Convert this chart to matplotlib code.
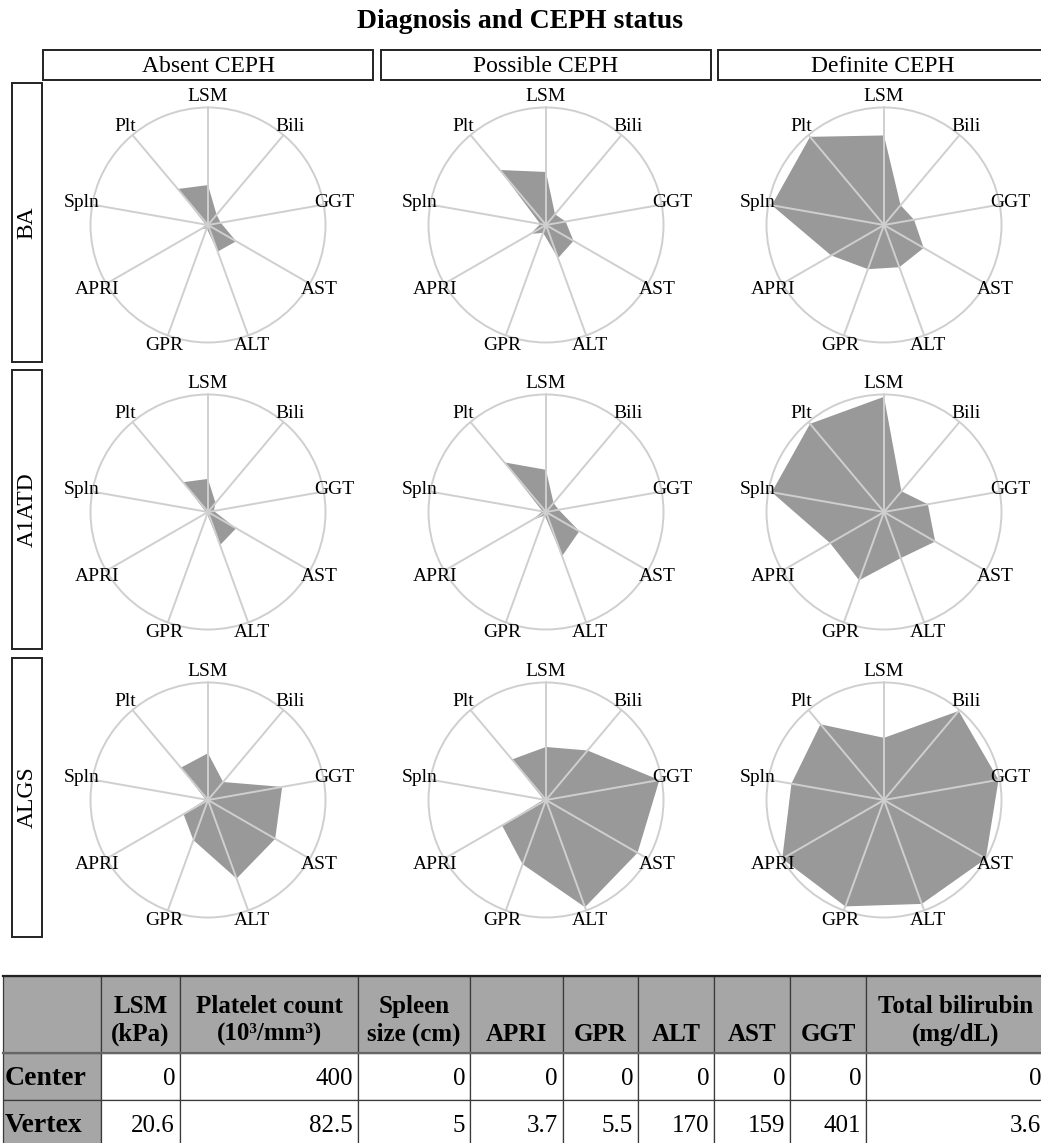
import numpy as np
import matplotlib
matplotlib.use("Agg")
import matplotlib.pyplot as plt
from matplotlib.patches import Rectangle

plt.rcParams["font.family"] = ["Liberation Serif", "DejaVu Serif"]

# ---- data -------------------------------------------------------------
# radar spokes (counter-clockwise from the top), same order as the table
metrics = ["LSM", "Plt", "Spln", "APRI", "GPR", "ALT", "AST", "GGT", "Bili"]
center_vals = [0, 400, 0, 0, 0, 0, 0, 0, 0]
vertex_vals = [20.6, 82.5, 5, 3.7, 5.5, 170, 159, 401, 3.6]

diagnoses = ["BA", "A1ATD", "ALGS"]
ceph_status = ["Absent CEPH", "Possible CEPH", "Definite CEPH"]

# values per panel, in metric order (LSM, Plt, Spln, APRI, GPR, ALT, AST, GGT, Bili)
ba_absent = [7.0, 273, 0.10, 0.26, 0.17, 41, 44, 44, 0.41]
ba_possible = [9.3, 206, 0.25, 0.56, 0.39, 51, 43, 68, 0.43]
ba_definite = [15.7, 89, 4.85, 1.92, 2.2, 65, 62, 104, 0.79]
a1atd_absent = [5.8, 295, 0.10, 0.07, 0.11, 51, 44, 20, 0.36]
a1atd_possible = [7.4, 225, 0.15, 0.52, 0.17, 68, 52, 44, 0.36]
a1atd_definite = [20.2, 89, 4.85, 1.96, 3.4, 71, 80, 152, 0.83]
algs_absent = [8.2, 286, 0.10, 0.89, 2.0, 121, 105, 257, 0.72]
algs_possible = [9.3, 257, 0.10, 1.60, 3.2, 165, 143, 393, 1.98]
algs_definite = [10.9, 133, 4.0, 3.70, 5.3, 160, 159, 397, 3.56]

panel_values = [
    [ba_absent, ba_possible, ba_definite],
    [a1atd_absent, a1atd_possible, a1atd_definite],
    [algs_absent, algs_possible, algs_definite],
]

# reference table
table_headers = ["", "LSM\n(kPa)", "Platelet count\n(10³/mm³)", "Spleen\nsize (cm)",
                 "APRI", "GPR", "ALT", "AST", "GGT", "Total bilirubin\n(mg/dL)"]
center_text = ["0", "400", "0", "0", "0", "0", "0", "0", "0"]
vertex_text = ["20.6", "82.5", "5", "3.7", "5.5", "170", "159", "401", "3.6"]

# ---- figure ------------------------------------------------------------
W, H = 1041, 1143
fig = plt.figure(figsize=(W / 100, H / 100), dpi=100)
fig.patch.set_facecolor("white")

canvas = fig.add_axes([0, 0, 1, 1])
canvas.set_xlim(0, W)
canvas.set_ylim(H, 0)
canvas.axis("off")

canvas.text(520, 22, "Diagnosis and CEPH status", ha="center", va="center",
            fontsize=20, fontweight="bold")

# facet strips
col_left = [43, 381, 718]
strip_w = 330
for j, name in enumerate(ceph_status):
    canvas.add_patch(Rectangle((col_left[j], 50), strip_w, 30, facecolor="white",
                               edgecolor="#222222", lw=1.4))
    canvas.text(col_left[j] + strip_w / 2, 66, name, ha="center", va="center",
                fontsize=17)

row_top = [83, 370, 658]
strip_h = 279
for i, name in enumerate(diagnoses):
    canvas.add_patch(Rectangle((12, row_top[i]), 30, strip_h, facecolor="white",
                               edgecolor="#222222", lw=1.4))
    canvas.text(27, row_top[i] + strip_h / 2, name, ha="center", va="center",
                fontsize=17, rotation=90)

# radar panels
col_cx = [208, 546, 884]
row_cy = [225, 512, 800]
R = 117.5
theta = np.arange(len(metrics)) * 2 * np.pi / len(metrics)
c = np.array(center_vals, dtype=float)
v = np.array(vertex_vals, dtype=float)

for i in range(3):
    for j in range(3):
        vals = np.array(panel_values[i][j], dtype=float)
        frac = np.clip((vals - c) / (v - c), 0, 1)
        cx, cy = col_cx[j], row_cy[i]
        ax = fig.add_axes([(cx - R) / W, 1 - (cy + R) / H, 2 * R / W, 2 * R / H],
                          projection="polar")
        ax.set_theta_offset(np.pi / 2)
        ax.set_theta_direction(1)
        ax.set_ylim(0, 1)
        ax.set_xticks(theta)
        ax.set_xticklabels([""] * len(theta))
        ax.set_yticks([])
        ax.tick_params(length=0)
        ax.grid(axis="x", color="#cfcfcf", lw=1.4)
        ax.set_axisbelow(False)
        ax.spines["polar"].set_edgecolor("#cfcfcf")
        ax.spines["polar"].set_linewidth(1.4)
        ax.fill(np.r_[theta, theta[0]], np.r_[frac, frac[0]], color="#999999",
                lw=0, zorder=1)
        for t, name in zip(theta, metrics):
            ax.text(t, 1.09, name, ha="center", va="center", fontsize=14,
                    clip_on=False, zorder=5)

# ---- table -------------------------------------------------------------
xs = [3, 101, 180, 358, 470, 563, 638, 714, 790, 866, 1046]
ys = [976, 1053, 1100, 1147]
gray = "#a6a6a6"
line_c = "#3a3a3a"

for k in range(len(xs) - 1):
    for r in range(3):
        fc = gray if (r == 0 or k == 0) else "white"
        canvas.add_patch(Rectangle((xs[k], ys[r]), xs[k + 1] - xs[k], ys[r + 1] - ys[r],
                                   facecolor=fc, edgecolor=line_c, lw=0.9))
canvas.plot([xs[0], xs[-1]], [ys[0], ys[0]], color="#222222", lw=1.6)
canvas.plot([xs[0], xs[-1]], [ys[1], ys[1]], color="#666666", lw=1.6)

fs_tab = 18
for k, head in enumerate(table_headers):
    if not head:
        continue
    xm = (xs[k] + xs[k + 1]) / 2
    lines = head.split("\n")
    if len(lines) == 2:
        canvas.text(xm, 1013, lines[0], ha="center", va="baseline",
                    fontsize=fs_tab, fontweight="bold")
        canvas.text(xm, 1041, lines[1], ha="center", va="baseline",
                    fontsize=fs_tab, fontweight="bold")
    else:
        canvas.text(xm, 1041, lines[0], ha="center", va="baseline",
                    fontsize=fs_tab, fontweight="bold")

canvas.text(5, 1085, "Center", ha="left", va="baseline", fontsize=20,
            fontweight="bold")
canvas.text(5, 1132, "Vertex", ha="left", va="baseline", fontsize=20,
            fontweight="bold")
for k in range(len(center_text)):
    xr = xs[k + 2] - 5
    canvas.text(xr, 1085, center_text[k], ha="right", va="baseline", fontsize=fs_tab)
    canvas.text(xr, 1132, vertex_text[k], ha="right", va="baseline", fontsize=fs_tab)

fig.savefig("out.png", dpi=100)
